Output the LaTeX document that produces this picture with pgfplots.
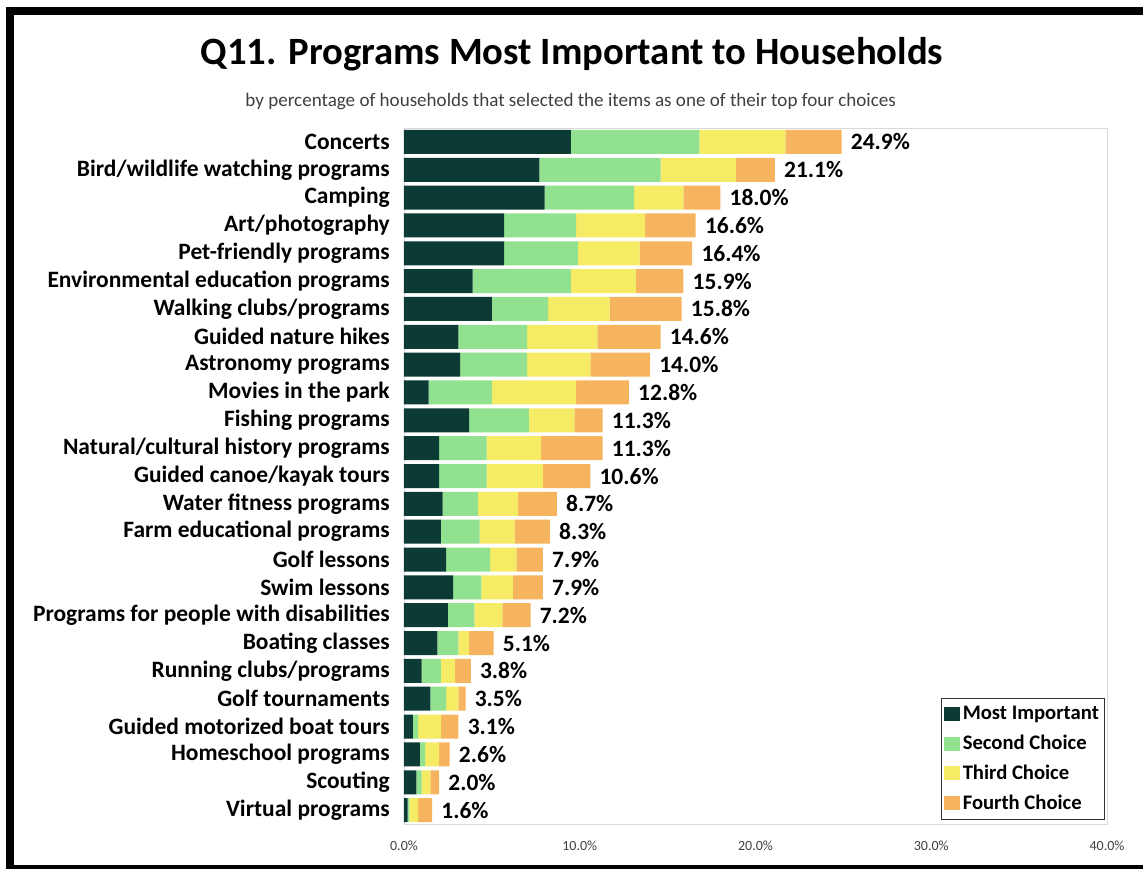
\documentclass[border=0pt]{standalone}
\usepackage{fontspec}
\setmainfont{Carlito}
\usepackage{pgfplots}
\usepackage{pgfplotstable}
\pgfplotsset{compat=1.18}

\definecolor{cMost}{HTML}{0B3B34}
\definecolor{cSecond}{HTML}{92E190}
\definecolor{cThird}{HTML}{F5EB64}
\definecolor{cFourth}{HTML}{F7B45F}

% i = row (0 = top), a..d = first..fourth choice, t = total shown
\pgfplotstableread{
i a b c d t
0 9.5 7.3 4.9 3.2 24.9
1 7.7 6.9 4.3 2.2 21.1
2 8.0 5.1 2.8 2.1 18.0
3 5.7 4.1 3.9 2.9 16.6
4 5.7 4.2 3.5 3.0 16.4
5 3.9 5.6 3.7 2.7 15.9
6 5.0 3.2 3.5 4.1 15.8
7 3.1 3.9 4.0 3.6 14.6
8 3.2 3.8 3.6 3.4 14.0
9 1.4 3.6 4.8 3.0 12.8
10 3.7 3.4 2.6 1.6 11.3
11 2.0 2.7 3.1 3.5 11.3
12 2.0 2.7 3.2 2.7 10.6
13 2.2 2.0 2.3 2.2 8.7
14 2.1 2.2 2.0 2.0 8.3
15 2.4 2.5 1.5 1.5 7.9
16 2.8 1.6 1.8 1.7 7.9
17 2.5 1.5 1.6 1.6 7.2
18 1.9 1.2 0.6 1.4 5.1
19 1.0 1.1 0.8 0.9 3.8
20 1.5 0.9 0.7 0.4 3.5
21 0.5 0.3 1.3 1.0 3.1
22 0.9 0.3 0.8 0.6 2.6
23 0.7 0.3 0.5 0.5 2.0
24 0.2 0.1 0.5 0.8 1.6
}\progdata

\pgfplotsset{
  panel/.style={
    at={(303pt,33.75pt)}, anchor=south west,
    scale only axis, width=527.25pt, height=522pt,
    xmin=0, xmax=40, ymin=-0.5, ymax=24.5, y dir=reverse,
  },
}

\begin{document}
\begin{tikzpicture}
\useasboundingbox (0,0) rectangle (857.25pt,651.75pt);
\fill[white] (0,0) rectangle (857.25pt,651.75pt);
% frame
\fill[black] (4.5pt,0) rectangle (10.5pt,646.5pt);
\fill[black] (4.5pt,640.5pt) rectangle (857.25pt,646.5pt);
\fill[black] (4.5pt,0) rectangle (857.25pt,3pt);

\node[anchor=base,font=\bfseries\fontsize{29}{34}\selectfont] at (429pt,603pt)
  {Q11. Programs Most Important to Households};
\node[anchor=base,font=\fontsize{14.3}{16}\selectfont,text=black!75] at (428pt,571.5pt)
  {by percentage of households that selected the items as one of their top four choices};

\begin{axis}[
  panel,
  xbar stacked, bar width=18pt,
  xtick={0,10,20,30,40},
  xticklabels={0.0\%,10.0\%,20.0\%,30.0\%,40.0\%},
  ytick={0,...,24},
  yticklabels={Concerts,Bird/wildlife watching programs,Camping,Art/photography,
    Pet-friendly programs,Environmental education programs,Walking clubs/programs,
    Guided nature hikes,Astronomy programs,Movies in the park,Fishing programs,
    Natural/cultural history programs,Guided canoe/kayak tours,Water fitness programs,
    Farm educational programs,Golf lessons,Swim lessons,
    Programs for people with disabilities,Boating classes,Running clubs/programs,
    Golf tournaments,Guided motorized boat tours,Homeschool programs,Scouting,
    Virtual programs},
  major tick length=0pt,
  axis line style={black!15},
  xticklabel style={font=\fontsize{10.5}{12}\selectfont,text=black!75,yshift=-9pt},
  yticklabel style={font=\bfseries\fontsize{17.6}{20}\selectfont,inner sep=0pt,xshift=-10.5pt},
  legend style={at={(0.997,0.006)},anchor=south east,
    font=\bfseries\fontsize{15.5}{18}\selectfont,
    draw=black!80,line width=1pt,row sep=6pt,
    inner xsep=2pt,inner ysep=4pt,cells={anchor=west}},
  legend image code/.code={\fill[#1] (0pt,-5.5pt) rectangle (12pt,5pt);},
  every axis plot/.append style={draw=none},
]
\addplot[fill=cMost] table[x=a,y=i]{\progdata};
\addplot[fill=cSecond] table[x=b,y=i]{\progdata};
\addplot[fill=cThird] table[x=c,y=i]{\progdata};
\addplot[fill=cFourth] table[x=d,y=i]{\progdata};
\legend{Most Important,Second Choice,Third Choice,Fourth Choice}
\end{axis}

% second, unstacked axis on the same frame: total labels at the bar ends
\begin{axis}[
  panel, hide axis,
  /pgf/number format/assume math mode=true,
]
\addplot[draw=none,mark=none,
  point meta=explicit,
  nodes near coords={\pgfmathprintnumber[fixed,fixed zerofill,precision=1]{\pgfplotspointmeta}\%},
  nodes near coords style={font=\bfseries\fontsize{17.6}{20}\selectfont,
    anchor=west,inner sep=0pt,xshift=6.75pt,text=black}]
  table[x=t,y=i,meta=t]{\progdata};
\end{axis}
\end{tikzpicture}
\end{document}
